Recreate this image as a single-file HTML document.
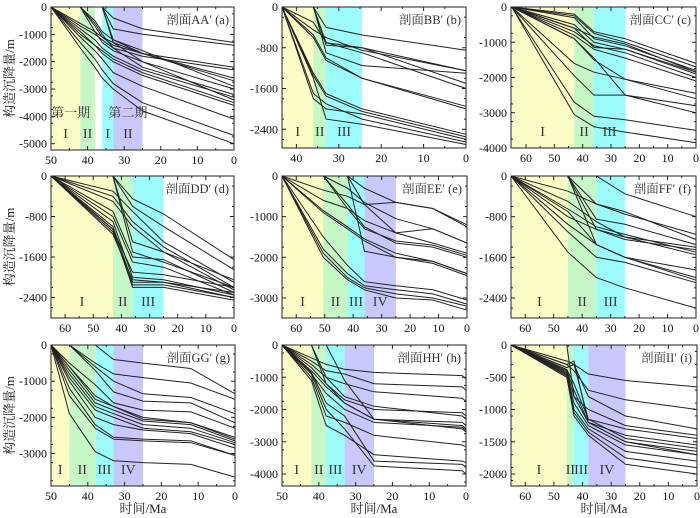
<!DOCTYPE html>
<html><head><meta charset="utf-8">
<style>
html,body{margin:0;padding:0;background:#fff;}
svg{display:block;font-family:"Liberation Serif","Noto Serif CJK SC",serif;}
</style></head>
<body>
<svg id="chart" width="700" height="518" viewBox="0 0 700 518" xmlns="http://www.w3.org/2000/svg"></svg>
<script>
// ---- data ----
const timesA=[50,42,38,36,33,25,0];
const seriesA=[
[0,-700,-1000,-1200,-1500,-1800,-2300],[0,-600,-900,-1100,-1400,-1700,-2700],
[0,-800,-1200,-1500,-1800,-2300,-3300],[0,-900,-1400,-1700,-2000,-2500,-3600],
[0,-1100,-1600,-1900,-2400,-2900,-4100],[0,-1300,-1900,-2300,-2800,-3500,-4700],
[0,-1500,-2200,-2600,-3000,-3800,-5000],[0,-1000,-1400,-1600,-1900,-2400,-3500],
[null,0,-700,-1100,-1300,-1700,-2600],[null,0,-900,-1300,-1600,-2000,-3000],
[null,0,-500,-900,-1200,-1600,-2900],[null,0,-600,-1000,-1500,-2200,-3200],
[null,null,null,0,-400,-800,-1300],[null,null,null,0,-800,-1000,-1400],
[null,null,null,0,-1200,-1700,-2200],[null,null,null,0,-1300,-2000,-3400]];
const timesB=[43.4,36,33,24.5,0];
const seriesB=[
[null,0,-400,-550,-850],[0,-300,-700,-800,-1500],[0,-450,-600,-850,-1250],
[0,-550,-1000,-1400,-1950],[0,-600,-1050,-1400,-2000],[0,-1300,-1700,-2000,-2500],
[0,-1350,-1750,-2050,-2550],[0,-1800,-2000,-2100,-2600],[0,-1700,-1900,-2200,-2650],
[0,-1400,-2200,-2300,-2700],[null,0,-700,-900,-1600],[null,0,-750,-800,-1250],[null,0,-900,-1150,-1300]];
const timesC=[65,43,36,25,0];
const seriesC=[
[0,-200,-700,-900,-1600],[0,-250,-750,-1000,-1700],[0,-300,-900,-1100,-1800],
[0,-500,-1000,-1200,-1850],[0,-600,-1150,-1200,-1900],[0,-700,-1100,-1300,-2000],
[0,-800,-1200,-1450,-2100],[0,-900,-1500,-2050,-2450],[0,-1600,-1850,-2050,-2600],
[0,-1950,-2500,-2500,-2800],[0,-900,-1450,-2500,-3000],[0,-2700,-3100,-3200,-3500],
[0,-3050,-3400,-3550,-3850],[0,-600,-850,-1050,-1850]];
const timesD=[65,43,36,25,0];
const seriesD=[
[null,0,-450,-750,-1650],[null,0,-600,-1000,-1850],[null,0,-1300,-1500,-2050],[null,0,-1500,-1700,-2200],
[0,-300,-700,-1300,-2100],[0,-400,-900,-1400,-2200],[0,-500,-1000,-1500,-2250],
[0,-700,-1600,-1650,-2300],[0,-800,-1700,-1800,-2350],[0,-900,-2000,-2050,-2350],
[0,-1000,-2100,-2100,-2400],[0,-1050,-2200,-2200,-2450],[0,-1100,-2150,-2150,-2400],
[0,-1150,-2050,-2100,-2300],[0,-1050,-1900,-1950,-2200]];
const timesE=[65,50.5,42,36,25,12,0];
const seriesE=[
[0,-350,-500,-700,-650,-800,-1250],[0,-600,-800,-1100,-1400,-1300,-1650],
[0,-850,-1250,-1550,-1900,-2100,-2400],[0,-900,-1300,-1600,-2000,-2150,-2450],
[0,-1500,-2200,-2600,-2700,-2800,-3050],[0,-1800,-2400,-2700,-2800,-2900,-3150],
[0,-1900,-2500,-2750,-2900,-3000,-3200],[0,-2000,-2550,-2800,-3000,-3050,-3300],
[null,0,-300,-650,-1050,-1300,-1650],[null,0,-800,-1300,-1600,-1700,-1950],
[null,0,-700,-1250,-1650,-1750,-2000],[null,null,0,-1850,-2000,-2100,-2400],
[null,null,0,-300,-650,-800,-1200],[null,null,0,-700,-1400,-1650,-1900]];
const timesF=[65,45,35,25,0];
const seriesF=[
[null,null,0,-350,-800],[0,-300,-550,-750,-1150],[0,-500,-900,-1200,-1550],
[0,-650,-1000,-1150,-1500],[0,-800,-1050,-1200,-1400],[0,-950,-1350,-1600,-2050],
[0,-1100,-1600,-1700,-2100],[0,-1500,-2000,-2200,-2600],[0,-700,-1350,-1600,-1850],
[null,0,-850,-950,-1350],[null,0,-1350,-1600,-2000],[null,0,-1050,-1250,-1450],[null,0,-550,-700,-1250]];
const timesG=[50,45,38,33,25,12,0];
const seriesG=[
[null,null,0,-400,-500,-650,-1350],[null,0,-500,-800,-900,-1050,-1500],
[null,0,-600,-1000,-1350,-1450,-1900],[null,0,-700,-1300,-1550,-1600,-2150],
[0,-500,-1100,-1600,-1800,-1850,-2300],[0,-600,-1400,-1700,-2050,-2150,-2600],
[0,-700,-1600,-1800,-2100,-2200,-2650],[0,-800,-1700,-1900,-2200,-2300,-2700],
[0,-900,-1800,-2000,-2300,-2400,-2750],[0,-1000,-2000,-2200,-2350,-2450,-2850],
[0,-1200,-2200,-2550,-2600,-2650,-3050],[0,-1400,-2300,-2600,-2650,-2700,-3050],
[0,-1900,-2950,-3200,-3250,-3300,-3650],[0,-600,-1500,-1700,-2000,-2150,-2550]];
const timesH=[50,42,38,33,25,1,0];
const seriesH=[
[0,-400,-600,-750,-850,-950,-1050],[0,-500,-800,-900,-1200,-1300,-1400],
[0,-600,-1000,-1200,-1450,-1650,-1750],[0,-700,-1200,-1700,-2000,-2100,-2200],
[0,-800,-1300,-1800,-2300,-2400,-2500],[0,-900,-1500,-2000,-2400,-2550,-2650],
[0,-1000,-2200,-2400,-2800,-3100,-3150],[0,-1100,-2500,-2800,-3400,-3600,-3650],
[0,-850,-1800,-2200,-3600,-3700,-3800],[0,-900,-2000,-2600,-3750,-3900,-4000],
[null,0,-1000,-1600,-1900,-2200,-2300],[null,0,-1200,-1800,-2300,-2500,-2600],
[null,null,0,-1100,-2300,-2600,-2700]];
const timesI=[65,45.5,43,38,25,0];
const seriesI=[
[0,-250,-300,-450,-550,-650],[0,-300,-400,-700,-850,-1000],[0,-350,-300,-800,-1100,-1300],
[0,-380,-600,-1150,-1300,-1450],[0,-400,-700,-1200,-1400,-1550],[0,-420,-800,-1200,-1500,-1650],
[0,-440,-900,-1250,-1550,-1700],[0,-460,-1000,-1300,-1650,-1800],[0,-480,-1050,-1350,-1750,-1900],
[0,-500,-1100,-1400,-1850,-2000],[0,-300,-250,-1200,-1500,-1700],[0,-350,-300,-1150,-1450,-1600],
[null,0,-800,-1000,-1250,-1400]];
const yTicksA=[0,-1000,-2000,-3000,-4000,-5000];
const yTicksB=[0,-800,-1600,-2400];
const yTicksC=[0,-1000,-2000,-3000,-4000];
const yTicksE=[0,-1000,-2000,-3000];
const yTicksG=[0,-1000,-2000,-3000];
const yTicksH=[0,-1000,-2000,-3000,-4000];
const yTicksI=[0,-500,-1000,-1500,-2000];
const xTicks50=[50,40,30,20,10,0];
const xTicks40=[40,30,20,10,0];
const xTicks60=[60,50,40,30,20,10,0];
const titles=["剖面AA′ (a)","剖面BB′ (b)","剖面CC′ (c)","剖面DD′ (d)","剖面EE′ (e)","剖面FF′ (f)","剖面GG′ (g)","剖面HH′ (h)","剖面II′ (i)"];

const Y="#fcfcc6",G="#c6f8c6",C="#9cfcfc",P="#c8c8fc";
const panels=[
 {id:"a",L:51,R:234,T:7,B:150,x0:50,y0:-5230,times:timesA,series:seriesA,yt:yTicksA,ymin:250,xt:xTicks50,
  bands:[[50,42,Y,"I"],[42,38,G,"II"],[36,33,C,"I"],[33,25,P,"II"]]},
 {id:"b",L:282,R:466,T:7,B:148,x0:43.4,y0:-2768,times:timesB,series:seriesB,yt:yTicksB,ymin:200,xt:xTicks40,
  bands:[[43.4,36,Y,"I"],[36,33,G,"II"],[33,24.5,C,"III"]]},
 {id:"c",L:511,R:696,T:7,B:148,x0:65.3,y0:-4000,times:timesC,series:seriesC,yt:yTicksC,ymin:250,xt:xTicks60,
  bands:[[65.3,43,Y,"I"],[43,36,G,"II"],[36,25,C,"III"]]},
 {id:"d",L:51,R:234,T:176,B:318,x0:65,y0:-2804,times:timesD,series:seriesD,yt:yTicksB,ymin:200,xt:xTicks60,
  bands:[[65,43,Y,"I"],[43,36,G,"II"],[36,25,C,"III"]]},
 {id:"e",L:282,R:467,T:176,B:318,x0:65,y0:-3493,times:timesE,series:seriesE,yt:yTicksE,ymin:250,xt:xTicks60,
  bands:[[65,50.5,Y,"I"],[50.5,42,G,"II"],[42,36,C,"III"],[36,25,P,"IV"]]},
 {id:"f",L:511,R:696,T:176,B:318,x0:65,y0:-2794,times:timesF,series:seriesF,yt:yTicksB,ymin:200,xt:xTicks60,
  bands:[[65,45,Y,"I"],[45,35,G,"II"],[35,25,C,"III"]]},
 {id:"g",L:51,R:235,T:345,B:486,x0:50,y0:-3897,times:timesG,series:seriesG,yt:yTicksG,ymin:250,xt:xTicks50,
  bands:[[50,45,Y,"I"],[45,38,G,"II"],[38,33,C,"III"],[33,25,P,"IV"]]},
 {id:"h",L:282,R:466,T:345,B:486,x0:50,y0:-4371,times:timesH,series:seriesH,yt:yTicksH,ymin:250,xt:xTicks50,
  bands:[[50,42,Y,"I"],[42,38,G,"II"],[38,33,C,"III"],[33,25,P,"IV"]]},
 {id:"i",L:511,R:697,T:345,B:486,x0:65,y0:-2186,times:timesI,series:seriesI,yt:yTicksI,ymin:100,xt:xTicks60,
  bands:[[65,45.5,Y,"I"],[45.5,43,G,"II"],[43,38,C,"III"],[38,25,P,"IV"]]}
];

const svg=document.getElementById('chart');
const NS="http://www.w3.org/2000/svg";
function mk(tag,attrs,parent){const e=document.createElementNS(NS,tag);for(const k in attrs)e.setAttribute(k,attrs[k]);(parent||svg).appendChild(e);return e;}

panels.forEach((p,pi)=>{
  const g=mk('g',{});
  
  
  const sx=t=>p.L+(p.x0-t)/p.x0*(p.R-p.L);
  const sy=v=>p.T+(v/p.y0)*(p.B-p.T);
  p.bands.forEach((b,bi)=>{
    const r=mk('rect',{x:sx(b[0]),y:p.T,width:sx(b[1])-sx(b[0]),height:p.B-p.T,fill:b[2]},g);
    
    
    const tx=mk('text',{x:(sx(b[0])+sx(b[1]))/2,y:p.B-12,'font-size':14,'text-anchor':'middle',fill:'#333'},g);
    tx.textContent=b[3];
    
    
  });
  if(p.id==="a"){
    [["第一期",sx(46)+5],["第二期",sx(29)]].forEach(a=>{
      const t=mk('text',{x:a[1],y:p.B-33,'font-size':13,'text-anchor':'middle',fill:'#333'},g);
      t.textContent=a[0];
      
      
    });
  }
  p.series.forEach((s,si)=>{
    const pts=[];
    s.forEach((v,k)=>{if(v!==null)pts.push(sx(p.times[k]).toFixed(1)+','+sy(v).toFixed(1));});
    const l=mk('polyline',{points:pts.join(' '),fill:'none',stroke:'#222','stroke-width':1},g);
    
    
  });
  const fr=mk('rect',{x:p.L,y:p.T,width:p.R-p.L,height:p.B-p.T,fill:'none',stroke:'#222','stroke-width':1},g);
  
  
  // y ticks
  p.yt.forEach(v=>{
    const y=sy(v);
    mk('line',{x1:p.L,x2:p.L+4,y1:y,y2:y,stroke:'#222'},g);
    mk('line',{x1:p.R,x2:p.R-4,y1:y,y2:y,stroke:'#222'},g);
    const t=mk('text',{x:p.L-4,y:y+4,'font-size':12,'text-anchor':'end',fill:'#111'},g);
    t.textContent=v;
    
    
  });
  for(let v=-p.ymin;v>p.y0;v-=p.ymin*2){
    const y=sy(v);
    mk('line',{x1:p.L,x2:p.L+2,y1:y,y2:y,stroke:'#222'},g);
    mk('line',{x1:p.R,x2:p.R-2,y1:y,y2:y,stroke:'#222'},g);
  }
  p.xt.forEach(v=>{
    const x=sx(v);
    mk('line',{x1:x,x2:x,y1:p.B,y2:p.B-4,stroke:'#222'},g);
    mk('line',{x1:x,x2:x,y1:p.T,y2:p.T+4,stroke:'#222'},g);
    const t=mk('text',{x:x,y:p.B+14,'font-size':12,'text-anchor':'middle',fill:'#111'},g);
    t.textContent=v;
    
    
    if(v-5>0 && v-5<p.x0){const x2=sx(v-5);mk('line',{x1:x2,x2:x2,y1:p.B,y2:p.B-2,stroke:'#222'},g);mk('line',{x1:x2,x2:x2,y1:p.T,y2:p.T+2,stroke:'#222'},g);}
  });
  const tt=mk('text',{x:p.R-5,y:p.T+17,'font-size':12.5,'text-anchor':'end',fill:'#333'},g);
  tt.textContent=titles[pi];
  
  
  if(p.id==="a"||p.id==="d"||p.id==="g"){
    const cy=(p.T+p.B)/2;
    const yt=mk('text',{x:0,y:0,'font-size':13,'text-anchor':'middle',fill:'#222',transform:'translate(14,'+cy+') rotate(-90)'},g);
    yt.textContent="构造沉降量/m";
    
    
  }
  if(p.id==="g"||p.id==="h"||p.id==="i"){
    const xt=mk('text',{x:(p.L+p.R)/2,y:513,'font-size':13,'text-anchor':'middle',fill:'#222'},g);
    xt.textContent="时间/Ma";
    
    
  }
});
</script>
</body></html>
